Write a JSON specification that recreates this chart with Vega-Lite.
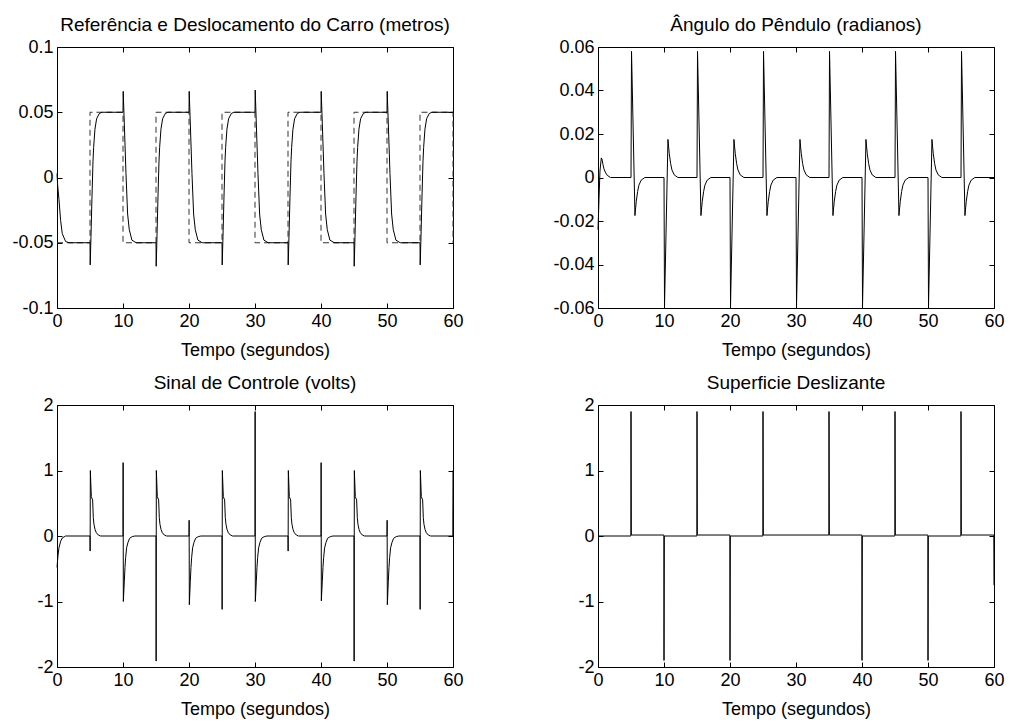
{
  "$schema": "https://vega.github.io/schema/vega-lite/v6.json",
  "background": "white",
  "padding": {"left": 11, "top": 15, "right": 5, "bottom": 5},
  "config": {
    "font": "Liberation Sans",
    "view": {"stroke": "black", "strokeWidth": 1},
    "axis": {
      "grid": false, "domain": false, "tickSize": -5, "tickColor": "black", "tickWidth": 1,
      "labelPadding": 9, "labelFont": "Liberation Sans", "labelFontSize": 18, "labelColor": "black",
      "labelFlush": false, "labelOverlap": false,
      "titleFont": "Liberation Sans", "titleFontSize": 18, "titleFontWeight": "normal", "titleColor": "black", "titlePadding": 11
    },
    "title": {"font": "Liberation Sans", "fontSize": 19, "fontWeight": "normal", "color": "black", "anchor": "middle", "offset": 3}
  },
  "datasets": {
    "ref": [
      {"t":0,"v":-0.05},{"t":5,"v":-0.05},{"t":5,"v":0.05},{"t":10,"v":0.05},{"t":10,"v":-0.05},{"t":15,"v":-0.05},{"t":15,"v":0.05},{"t":20,"v":0.05},{"t":20,"v":-0.05},{"t":25,"v":-0.05},{"t":25,"v":0.05},{"t":30,"v":0.05},{"t":30,"v":-0.05},{"t":35,"v":-0.05},{"t":35,"v":0.05},{"t":40,"v":0.05},{"t":40,"v":-0.05},{"t":45,"v":-0.05},{"t":45,"v":0.05},{"t":50,"v":0.05},{"t":50,"v":-0.05},{"t":55,"v":-0.05},{"t":55,"v":0.05},{"t":60,"v":0.05},{"t":60,"v":-0.05}
    ],
    "car": [
      {"t":0,"v":0.003},{"t":0.1,"v":-0.006},{"t":0.3,"v":-0.017},{"t":0.55,"v":-0.033},{"t":0.8,"v":-0.043},{"t":1.3,"v":-0.049},{"t":1.8,"v":-0.05},
      {"t":5,"v":-0.05},{"t":5.03,"v":-0.067},{"t":5.15,"v":-0.045},{"t":5.3,"v":-0.015},{"t":5.45,"v":0.012},{"t":5.55,"v":0.023},{"t":5.75,"v":0.037},{"t":6,"v":0.045},{"t":6.4,"v":0.049},{"t":6.8,"v":0.05},
      {"t":10,"v":0.05},{"t":10.03,"v":0.066},{"t":10.2,"v":0.041},{"t":10.45,"v":0.003},{"t":10.7,"v":-0.028},{"t":10.95,"v":-0.04},{"t":11.35,"v":-0.048},{"t":12,"v":-0.05},
      {"t":15,"v":-0.05},{"t":15.03,"v":-0.068},{"t":15.15,"v":-0.045},{"t":15.3,"v":-0.015},{"t":15.45,"v":0.012},{"t":15.55,"v":0.023},{"t":15.75,"v":0.037},{"t":16,"v":0.045},{"t":16.4,"v":0.049},{"t":16.8,"v":0.05},
      {"t":20,"v":0.05},{"t":20.03,"v":0.066},{"t":20.2,"v":0.041},{"t":20.45,"v":0.003},{"t":20.7,"v":-0.028},{"t":20.95,"v":-0.04},{"t":21.35,"v":-0.048},{"t":22,"v":-0.05},
      {"t":25,"v":-0.05},{"t":25.03,"v":-0.067},{"t":25.15,"v":-0.045},{"t":25.3,"v":-0.015},{"t":25.45,"v":0.012},{"t":25.55,"v":0.023},{"t":25.75,"v":0.037},{"t":26,"v":0.045},{"t":26.4,"v":0.049},{"t":26.8,"v":0.05},
      {"t":30,"v":0.05},{"t":30.03,"v":0.067},{"t":30.2,"v":0.041},{"t":30.45,"v":0.003},{"t":30.7,"v":-0.028},{"t":30.95,"v":-0.04},{"t":31.35,"v":-0.048},{"t":32,"v":-0.05},
      {"t":35,"v":-0.05},{"t":35.03,"v":-0.067},{"t":35.15,"v":-0.045},{"t":35.3,"v":-0.015},{"t":35.45,"v":0.012},{"t":35.55,"v":0.023},{"t":35.75,"v":0.037},{"t":36,"v":0.045},{"t":36.4,"v":0.049},{"t":36.8,"v":0.05},
      {"t":40,"v":0.05},{"t":40.03,"v":0.066},{"t":40.2,"v":0.041},{"t":40.45,"v":0.003},{"t":40.7,"v":-0.028},{"t":40.95,"v":-0.04},{"t":41.35,"v":-0.048},{"t":42,"v":-0.05},
      {"t":45,"v":-0.05},{"t":45.03,"v":-0.068},{"t":45.15,"v":-0.045},{"t":45.3,"v":-0.015},{"t":45.45,"v":0.012},{"t":45.55,"v":0.023},{"t":45.75,"v":0.037},{"t":46,"v":0.045},{"t":46.4,"v":0.049},{"t":46.8,"v":0.05},
      {"t":50,"v":0.05},{"t":50.03,"v":0.066},{"t":50.2,"v":0.041},{"t":50.45,"v":0.003},{"t":50.7,"v":-0.028},{"t":50.95,"v":-0.04},{"t":51.35,"v":-0.048},{"t":52,"v":-0.05},
      {"t":55,"v":-0.05},{"t":55.03,"v":-0.067},{"t":55.15,"v":-0.045},{"t":55.3,"v":-0.015},{"t":55.45,"v":0.012},{"t":55.55,"v":0.023},{"t":55.75,"v":0.037},{"t":56,"v":0.045},{"t":56.4,"v":0.049},{"t":56.8,"v":0.05},
      {"t":60,"v":0.05}
    ],
    "pend": [
      {"t":0,"v":-0.024},{"t":0.15,"v":-0.01},{"t":0.3,"v":0.003},{"t":0.5,"v":0.009},{"t":0.6,"v":0.0085},{"t":0.75,"v":0.006},{"t":0.9,"v":0.004},{"t":1.1,"v":0.0025},{"t":1.4,"v":0.001},{"t":1.9,"v":0},
      {"t":5,"v":0},{"t":5.08,"v":0.058},{"t":5.6,"v":-0.0175},{"t":5.7,"v":-0.014},{"t":5.8,"v":-0.011},{"t":6,"v":-0.0065},{"t":6.2,"v":-0.0035},{"t":6.55,"v":-0.0012},{"t":7.1,"v":0},
      {"t":10,"v":0},{"t":10.08,"v":-0.059},{"t":10.6,"v":0.0175},{"t":10.7,"v":0.014},{"t":10.8,"v":0.011},{"t":11,"v":0.0065},{"t":11.2,"v":0.0035},{"t":11.55,"v":0.0012},{"t":12.1,"v":0},
      {"t":15,"v":0},{"t":15.08,"v":0.058},{"t":15.6,"v":-0.0175},{"t":15.7,"v":-0.014},{"t":15.8,"v":-0.011},{"t":16,"v":-0.0065},{"t":16.2,"v":-0.0035},{"t":16.55,"v":-0.0012},{"t":17.1,"v":0},
      {"t":20,"v":0},{"t":20.08,"v":-0.059},{"t":20.6,"v":0.0175},{"t":20.7,"v":0.014},{"t":20.8,"v":0.011},{"t":21,"v":0.0065},{"t":21.2,"v":0.0035},{"t":21.55,"v":0.0012},{"t":22.1,"v":0},
      {"t":25,"v":0},{"t":25.08,"v":0.058},{"t":25.6,"v":-0.0175},{"t":25.7,"v":-0.014},{"t":25.8,"v":-0.011},{"t":26,"v":-0.0065},{"t":26.2,"v":-0.0035},{"t":26.55,"v":-0.0012},{"t":27.1,"v":0},
      {"t":30,"v":0},{"t":30.08,"v":-0.059},{"t":30.6,"v":0.0175},{"t":30.7,"v":0.014},{"t":30.8,"v":0.011},{"t":31,"v":0.0065},{"t":31.2,"v":0.0035},{"t":31.55,"v":0.0012},{"t":32.1,"v":0},
      {"t":35,"v":0},{"t":35.08,"v":0.058},{"t":35.6,"v":-0.0175},{"t":35.7,"v":-0.014},{"t":35.8,"v":-0.011},{"t":36,"v":-0.0065},{"t":36.2,"v":-0.0035},{"t":36.55,"v":-0.0012},{"t":37.1,"v":0},
      {"t":40,"v":0},{"t":40.08,"v":-0.059},{"t":40.6,"v":0.0175},{"t":40.7,"v":0.014},{"t":40.8,"v":0.011},{"t":41,"v":0.0065},{"t":41.2,"v":0.0035},{"t":41.55,"v":0.0012},{"t":42.1,"v":0},
      {"t":45,"v":0},{"t":45.08,"v":0.058},{"t":45.6,"v":-0.0175},{"t":45.7,"v":-0.014},{"t":45.8,"v":-0.011},{"t":46,"v":-0.0065},{"t":46.2,"v":-0.0035},{"t":46.55,"v":-0.0012},{"t":47.1,"v":0},
      {"t":50,"v":0},{"t":50.08,"v":-0.059},{"t":50.6,"v":0.0175},{"t":50.7,"v":0.014},{"t":50.8,"v":0.011},{"t":51,"v":0.0065},{"t":51.2,"v":0.0035},{"t":51.55,"v":0.0012},{"t":52.1,"v":0},
      {"t":55,"v":0},{"t":55.08,"v":0.058},{"t":55.6,"v":-0.0175},{"t":55.7,"v":-0.014},{"t":55.8,"v":-0.011},{"t":56,"v":-0.0065},{"t":56.2,"v":-0.0035},{"t":56.55,"v":-0.0012},{"t":57.1,"v":0},
      {"t":60,"v":0}
    ],
    "ctrl": [
      {"t":0,"v":-0.48},{"t":0.15,"v":-0.3},{"t":0.3,"v":-0.18},{"t":0.55,"v":-0.08},{"t":0.8,"v":-0.03},{"t":1.3,"v":0},
      {"t":5,"v":0},{"t":5.02,"v":-0.23},{"t":5.05,"v":1},{"t":5.2,"v":0.6},{"t":5.4,"v":0.55},{"t":5.5,"v":0.28},{"t":5.6,"v":0.18},{"t":5.76,"v":0.1},{"t":5.96,"v":0.05},{"t":6.26,"v":0.015},{"t":6.6,"v":0},
      {"t":10,"v":0},{"t":10.02,"v":1.12},{"t":10.05,"v":-1},{"t":10.2,"v":-0.69},{"t":10.3,"v":-0.48},{"t":10.4,"v":-0.33},{"t":10.55,"v":-0.18},{"t":10.75,"v":-0.1},{"t":11,"v":-0.035},{"t":11.4,"v":-0.01},{"t":11.8,"v":0},
      {"t":15,"v":0},{"t":15.02,"v":-1.91},{"t":15.05,"v":1},{"t":15.2,"v":0.6},{"t":15.4,"v":0.55},{"t":15.5,"v":0.28},{"t":15.6,"v":0.18},{"t":15.76,"v":0.1},{"t":15.96,"v":0.05},{"t":16.26,"v":0.015},{"t":16.6,"v":0},
      {"t":20,"v":0},{"t":20.02,"v":0.24},{"t":20.05,"v":-1.05},{"t":20.2,"v":-0.69},{"t":20.3,"v":-0.48},{"t":20.4,"v":-0.33},{"t":20.55,"v":-0.18},{"t":20.75,"v":-0.1},{"t":21,"v":-0.035},{"t":21.4,"v":-0.01},{"t":21.8,"v":0},
      {"t":25,"v":0},{"t":25.02,"v":-1.12},{"t":25.05,"v":1},{"t":25.2,"v":0.6},{"t":25.4,"v":0.55},{"t":25.5,"v":0.28},{"t":25.6,"v":0.18},{"t":25.76,"v":0.1},{"t":25.96,"v":0.05},{"t":26.26,"v":0.015},{"t":26.6,"v":0},
      {"t":30,"v":0},{"t":30.02,"v":1.9},{"t":30.05,"v":-1},{"t":30.2,"v":-0.69},{"t":30.3,"v":-0.48},{"t":30.4,"v":-0.33},{"t":30.55,"v":-0.18},{"t":30.75,"v":-0.1},{"t":31,"v":-0.035},{"t":31.4,"v":-0.01},{"t":31.8,"v":0},
      {"t":35,"v":0},{"t":35.02,"v":-0.23},{"t":35.05,"v":1},{"t":35.2,"v":0.6},{"t":35.4,"v":0.55},{"t":35.5,"v":0.28},{"t":35.6,"v":0.18},{"t":35.76,"v":0.1},{"t":35.96,"v":0.05},{"t":36.26,"v":0.015},{"t":36.6,"v":0},
      {"t":40,"v":0},{"t":40.02,"v":1.12},{"t":40.05,"v":-0.99},{"t":40.2,"v":-0.69},{"t":40.3,"v":-0.48},{"t":40.4,"v":-0.33},{"t":40.55,"v":-0.18},{"t":40.75,"v":-0.1},{"t":41,"v":-0.035},{"t":41.4,"v":-0.01},{"t":41.8,"v":0},
      {"t":45,"v":0},{"t":45.02,"v":-1.91},{"t":45.05,"v":1},{"t":45.2,"v":0.6},{"t":45.4,"v":0.55},{"t":45.5,"v":0.28},{"t":45.6,"v":0.18},{"t":45.76,"v":0.1},{"t":45.96,"v":0.05},{"t":46.26,"v":0.015},{"t":46.6,"v":0},
      {"t":50,"v":0},{"t":50.02,"v":0.24},{"t":50.05,"v":-1.05},{"t":50.2,"v":-0.69},{"t":50.3,"v":-0.48},{"t":50.4,"v":-0.33},{"t":50.55,"v":-0.18},{"t":50.75,"v":-0.1},{"t":51,"v":-0.035},{"t":51.4,"v":-0.01},{"t":51.8,"v":0},
      {"t":55,"v":0},{"t":55.02,"v":-1.12},{"t":55.05,"v":1},{"t":55.2,"v":0.6},{"t":55.4,"v":0.55},{"t":55.5,"v":0.28},{"t":55.6,"v":0.18},{"t":55.76,"v":0.1},{"t":55.96,"v":0.05},{"t":56.26,"v":0.015},{"t":56.6,"v":0},
      {"t":59.97,"v":0},{"t":60,"v":1}
    ],
    "slide": [
      {"t":0,"v":0},{"t":4.98,"v":0},{"t":5,"v":1.9},{"t":5.05,"v":0.015},{"t":9.98,"v":0.015},{"t":10,"v":-1.9},{"t":10.05,"v":0},
      {"t":14.98,"v":0},{"t":15,"v":1.9},{"t":15.05,"v":0.015},{"t":19.98,"v":0.015},{"t":20,"v":-1.9},{"t":20.05,"v":0},
      {"t":24.98,"v":0},{"t":25,"v":1.9},{"t":25.05,"v":0.015},{"t":34.98,"v":0.015},{"t":35,"v":1.9},{"t":35.05,"v":0.015},
      {"t":39.98,"v":0.015},{"t":40,"v":-1.9},{"t":40.05,"v":0},{"t":44.98,"v":0},{"t":45,"v":1.9},{"t":45.05,"v":0.015},
      {"t":49.98,"v":0.015},{"t":50,"v":-1.9},{"t":50.05,"v":0},{"t":54.98,"v":0},{"t":55,"v":1.9},{"t":55.05,"v":0.015},
      {"t":59.97,"v":0.015},{"t":60,"v":-0.75}
    ]
  },
  "columns": 2,
  "bounds": "flush",
  "spacing": {"row": 97, "column": 145},
  "concat": [
    {
      "width": 396, "height": 261,
      "title": "Referência e Deslocamento do Carro (metros)",
      "layer": [
        {
          "data": {"name": "ref"},
          "mark": {"type": "line", "color": "#333", "strokeWidth": 1, "strokeDash": [6, 4]},
          "encoding": {
            "x": {"field": "t", "type": "quantitative", "scale": {"domain": [0, 60]}, "axis": {"orient": "bottom", "values": [0,10,20,30,40,50,60], "title": "Tempo (segundos)"}},
            "y": {"field": "v", "type": "quantitative", "scale": {"domain": [-0.1, 0.1]}, "axis": {"orient": "left", "values": [-0.1,-0.05,0,0.05,0.1], "title": null, "labelExpr": "replace(format(datum.value, '~g'), '\u2212', '-')"}},
            "order": {"value": null}
          }
        },
        {
          "data": {"name": "car"},
          "mark": {"type": "line", "color": "black", "strokeWidth": 1},
          "encoding": {
            "x": {"field": "t", "type": "quantitative", "axis": {"orient": "top", "values": [0,10,20,30,40,50,60], "labels": false, "title": null}},
            "y": {"field": "v", "type": "quantitative", "axis": {"orient": "right", "values": [-0.1,-0.05,0,0.05,0.1], "labels": false, "title": null}},
            "order": {"value": null}
          }
        }
      ],
      "resolve": {"axis": {"x": "independent", "y": "independent"}}
    },
    {
      "width": 396, "height": 261,
      "title": "Ângulo do Pêndulo (radianos)",
      "layer": [
        {
          "data": {"name": "pend"},
          "mark": {"type": "line", "color": "black", "strokeWidth": 1},
          "encoding": {
            "x": {"field": "t", "type": "quantitative", "scale": {"domain": [0, 60]}, "axis": {"orient": "bottom", "values": [0,10,20,30,40,50,60], "title": "Tempo (segundos)"}},
            "y": {"field": "v", "type": "quantitative", "scale": {"domain": [-0.06, 0.06]}, "axis": {"orient": "left", "values": [-0.06,-0.04,-0.02,0,0.02,0.04,0.06], "title": null, "labelExpr": "replace(format(datum.value, '~g'), '\u2212', '-')"}},
            "order": {"value": null}
          }
        },
        {
          "data": {"name": "pend"},
          "mark": {"type": "line", "color": "black", "strokeWidth": 1, "opacity": 0},
          "encoding": {
            "x": {"field": "t", "type": "quantitative", "axis": {"orient": "top", "values": [0,10,20,30,40,50,60], "labels": false, "title": null}},
            "y": {"field": "v", "type": "quantitative", "axis": {"orient": "right", "values": [-0.06,-0.04,-0.02,0,0.02,0.04,0.06], "labels": false, "title": null}},
            "order": {"value": null}
          }
        }
      ],
      "resolve": {"axis": {"x": "independent", "y": "independent"}}
    },
    {
      "width": 396, "height": 262,
      "title": "Sinal de Controle (volts)",
      "layer": [
        {
          "data": {"name": "ctrl"},
          "mark": {"type": "line", "color": "black", "strokeWidth": 1},
          "encoding": {
            "x": {"field": "t", "type": "quantitative", "scale": {"domain": [0, 60]}, "axis": {"orient": "bottom", "values": [0,10,20,30,40,50,60], "title": "Tempo (segundos)"}},
            "y": {"field": "v", "type": "quantitative", "scale": {"domain": [-2, 2]}, "axis": {"orient": "left", "values": [-2,-1,0,1,2], "title": null, "labelExpr": "replace(format(datum.value, '~g'), '\u2212', '-')"}},
            "order": {"value": null}
          }
        },
        {
          "data": {"name": "ctrl"},
          "mark": {"type": "line", "color": "black", "strokeWidth": 1, "opacity": 0},
          "encoding": {
            "x": {"field": "t", "type": "quantitative", "axis": {"orient": "top", "values": [0,10,20,30,40,50,60], "labels": false, "title": null}},
            "y": {"field": "v", "type": "quantitative", "axis": {"orient": "right", "values": [-2,-1,0,1,2], "labels": false, "title": null}},
            "order": {"value": null}
          }
        }
      ],
      "resolve": {"axis": {"x": "independent", "y": "independent"}}
    },
    {
      "width": 396, "height": 262,
      "title": "Superficie Deslizante",
      "layer": [
        {
          "data": {"name": "slide"},
          "mark": {"type": "line", "color": "black", "strokeWidth": 1},
          "encoding": {
            "x": {"field": "t", "type": "quantitative", "scale": {"domain": [0, 60]}, "axis": {"orient": "bottom", "values": [0,10,20,30,40,50,60], "title": "Tempo (segundos)"}},
            "y": {"field": "v", "type": "quantitative", "scale": {"domain": [-2, 2]}, "axis": {"orient": "left", "values": [-2,-1,0,1,2], "title": null, "labelExpr": "replace(format(datum.value, '~g'), '\u2212', '-')"}},
            "order": {"value": null}
          }
        },
        {
          "data": {"name": "slide"},
          "mark": {"type": "line", "color": "black", "strokeWidth": 1, "opacity": 0},
          "encoding": {
            "x": {"field": "t", "type": "quantitative", "axis": {"orient": "top", "values": [0,10,20,30,40,50,60], "labels": false, "title": null}},
            "y": {"field": "v", "type": "quantitative", "axis": {"orient": "right", "values": [-2,-1,0,1,2], "labels": false, "title": null}},
            "order": {"value": null}
          }
        }
      ],
      "resolve": {"axis": {"x": "independent", "y": "independent"}}
    }
  ]
}
